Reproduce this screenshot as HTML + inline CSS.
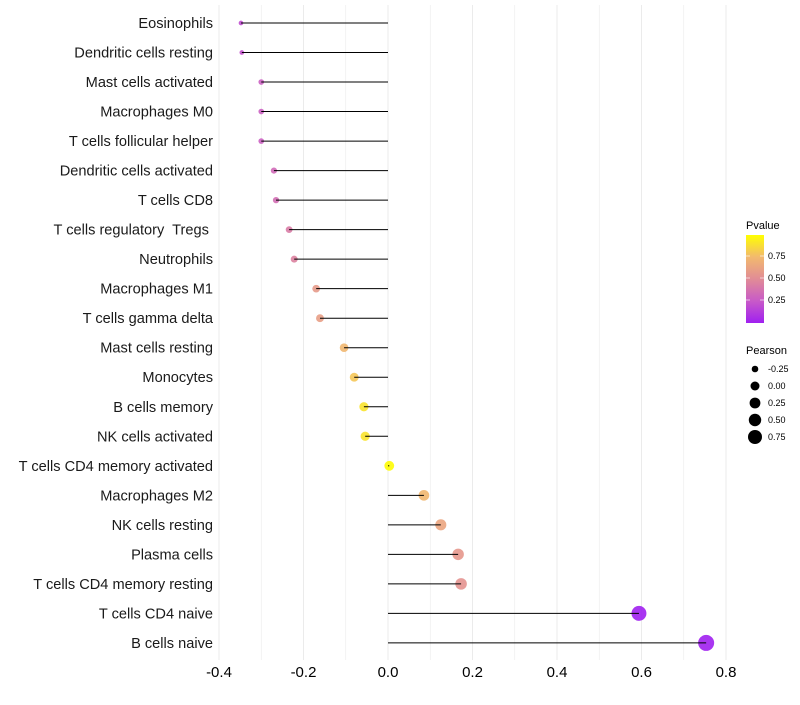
<!DOCTYPE html>
<html><head><meta charset="utf-8"><style>
body{margin:0;background:#fff;font-family:"Liberation Sans",sans-serif;}
svg text{font-family:"Liberation Sans",sans-serif;}
</style></head><body>
<svg id="chart" width="800" height="700"></svg>
<script>
const categories=["Eosinophils","Dendritic cells resting","Mast cells activated","Macrophages M0","T cells follicular helper","Dendritic cells activated","T cells CD8","T cells regulatory  Tregs ","Neutrophils","Macrophages M1","T cells gamma delta","Mast cells resting","Monocytes","B cells memory","NK cells activated","T cells CD4 memory activated","Macrophages M2","NK cells resting","Plasma cells","T cells CD4 memory resting","T cells CD4 naive","B cells naive"];
const pearson=[-0.348,-0.346,-0.30,-0.30,-0.30,-0.27,-0.265,-0.234,-0.222,-0.17,-0.161,-0.104,-0.08,-0.057,-0.054,0.003,0.085,0.125,0.166,0.173,0.594,0.753];
const pvalue=[0.2,0.22,0.28,0.28,0.28,0.33,0.35,0.42,0.45,0.58,0.6,0.74,0.8,0.9,0.9,0.99,0.74,0.64,0.56,0.54,0.0,0.0];
const xTicks=[-0.4,-0.2,0.0,0.2,0.4,0.6,0.8];
const xTickLabels=["-0.4","-0.2","0.0","0.2","0.4","0.6","0.8"];
const pvTicks=[0.25,0.5,0.75];
const sizeLegend=[-0.25,0,0.25,0.5,0.75];

const NS="http://www.w3.org/2000/svg";
const svg=document.getElementById('chart');
function el(t,a,p){const e=document.createElementNS(NS,t);for(const k in a)e.setAttribute(k,a[k]);(p||svg).appendChild(e);return e;}
const x=v=>388+(v)*422.5;
const y=i=>23+i*29.52;
const r=v=>Math.sqrt(Math.max(3,24+53.4*v));
const stops=[[0,[160,32,240]],[0.25,[200,90,200]],[0.5,[225,140,150]],[0.75,[242,185,110]],[1,[255,255,0]]];
function col(p){for(let i=1;i<stops.length;i++){if(p<=stops[i][0]){const a=stops[i-1],b=stops[i];const t=(p-a[0])/(b[0]-a[0]);const c=a[1].map((v,k)=>Math.round(v+(b[1][k]-v)*t));return `rgb(${c})`;}}return 'rgb(255,255,0)';}

for(let v=-0.4;v<=0.801;v+=0.1){
  const g=el('line',{x1:x(v),x2:x(v),y1:5,y2:660,stroke:'#ebebeb','stroke-width':Math.abs(Math.round(v*10))%2===0?1:0.6});
  
  
}
xTicks.forEach((v,i)=>{
  const t=el('text',{x:x(v),y:677,'text-anchor':'middle','font-size':15,fill:'#000'});
  t.textContent=xTickLabels[i];
  
  
});
categories.forEach((c,i)=>{
  const t=el('text',{x:213,y:y(i)+5,'text-anchor':'end','font-size':14.6,fill:'#1a1a1a','xml:space':'preserve',style:'white-space:pre'});
  t.textContent=c;
  
  
  const pt=el('circle',{cx:x(pearson[i]),cy:y(i),r:r(pearson[i]),fill:col(pvalue[i]),'fill-opacity':0.9});
  
  
  const ln=el('line',{x1:x(0),x2:x(pearson[i]),y1:y(i),y2:y(i),stroke:'#000','stroke-width':1});
  
  
});
const defs=el('defs',{});
const lg=el('linearGradient',{id:'pg',x1:0,y1:1,x2:0,y2:0},defs);
stops.forEach(s=>el('stop',{offset:s[0],'stop-color':`rgb(${s[1]})`},lg));
const lt=el('text',{x:746,y:229,'font-size':11});lt.textContent='Pvalue';


const bar=el('rect',{x:746,y:235,width:18,height:88,fill:'url(#pg)'});


pvTicks.forEach(p=>{
  const yy=322-p*88;
  el('line',{x1:746,x2:750,y1:yy,y2:yy,stroke:'#fff','stroke-width':0.6});
  el('line',{x1:760,x2:764,y1:yy,y2:yy,stroke:'#fff','stroke-width':0.6});
  const t=el('text',{x:768,y:yy+3,'font-size':9});t.textContent=p.toFixed(2);
  
  
});
const st=el('text',{x:746,y:354,'font-size':11});st.textContent='Pearson';


const legR=[3.3,4.5,5.4,6.2,7];
sizeLegend.forEach((v,i)=>{
  const yy=369+i*17;
  const c=el('circle',{cx:755,cy:yy,r:legR[i],fill:'#000'});
  
  
  const t=el('text',{x:768,y:yy+3,'font-size':9});t.textContent=v.toFixed(2);
  
  
});
</script>
</body></html>
